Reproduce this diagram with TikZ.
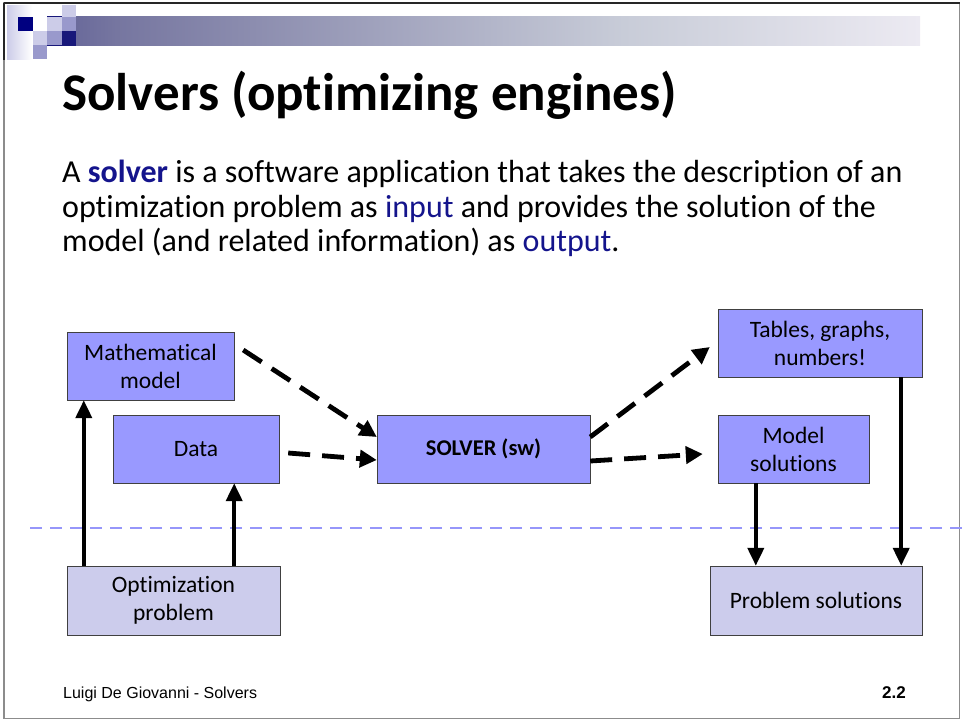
\documentclass[tikz,border=0pt]{standalone}
\usepackage{fontspec}
\setmainfont{Carlito}[Ligatures=NoCommon]
\newfontfamily\footfont{Liberation Sans}
\usetikzlibrary{arrows.meta,positioning,calc}
\definecolor{slidenavy}{RGB}{24,24,122}
\definecolor{barmid}{RGB}{60,60,135}
\definecolor{bargrey}{RGB}{118,118,160}
\definecolor{barpale}{RGB}{200,204,216}
\definecolor{barwhite}{RGB}{236,234,242}
\definecolor{sqlight}{RGB}{204,204,232}
\definecolor{sqmid}{RGB}{153,153,204}
\definecolor{sqdark}{RGB}{0,0,128}
\definecolor{boxblue}{RGB}{153,153,255}
\definecolor{boxlav}{RGB}{204,204,236}
\definecolor{textnavy}{RGB}{20,20,140}
\definecolor{sepblue}{RGB}{150,150,250}
\pgfdeclarehorizontalshading{headbar}{100bp}{color(0bp)=(slidenavy); color(17bp)=(barmid);
  color(29bp)=(bargrey); color(58bp)=(barpale); color(75bp)=(barwhite); color(100bp)=(white)}

\begin{document}
\begin{tikzpicture}[x=1pt,y=-1pt,
    sol/.style={draw=black!75,fill=boxblue,align=center,inner sep=0pt,
      minimum height=68pt,font=\fontsize{23.5}{28}\selectfont},
    prob/.style={sol,fill=boxlav,minimum height=69pt},
    feed/.style={-{Triangle[length=17pt,width=17pt]},line width=4.8pt,
      dash pattern=on 22pt off 12pt},
    link/.style={-{Triangle[length=18pt,width=16pt]},line width=4pt}
  ]
    \useasboundingbox (0,0) rectangle (962,720);
    % slide frame and header
    \draw[black!45,line width=1.5pt] (4,3) rectangle (959.5,718.5);
    \draw[black!85,line width=2pt] (4,3) -- (959.5,3) (4,3) -- (4,60);
    \shade[left color=sqlight,right color=white] (7,5) rectangle (32,59);
    \shade[shading=headbar] (47,16) rectangle (920,45.5);
    \fill[slidenavy] (47,16) rectangle (76,45.5);
    \fill[sqdark] (18,17) rectangle (33,31);
    \fill[sqlight] (33,31) rectangle (47,45);
    \fill[sqmid] (47,31) rectangle (62,45);
    \fill[sqlight] (47,17) rectangle (62,31);
    \fill[sqmid] (62,17) rectangle (76,31);
    \fill[sqlight] (62,5) rectangle (76,17);
    \fill[sqmid] (33,45) rectangle (47,59);

    \node[anchor=base west,inner sep=0pt,font=\fontsize{53}{60}\selectfont\bfseries]
      (title) at (62,110) {Solvers (optimizing engines)};
    \node[anchor=north west,inner sep=0pt,align=left,font=\fontsize{32}{34.5}\selectfont]
      (intro) at (62,160) {A \textcolor{textnavy}{\textbf{solver}} is a software application that takes the description of an\\
      optimization problem as \textcolor{textnavy}{input} and provides the solution of the\\
      model (and related information) as \textcolor{textnavy}{output}.};

    \draw[sepblue,line width=2.6pt,dash pattern=on 12pt off 8pt] (30,528) -- (962,528);

    \node[sol,minimum width=167pt] (math) at (150.5,366) {Mathematical\\model};
    \node[sol,minimum width=166pt] (data) at (196,449) {Data};
    \node[sol,minimum width=213pt,font=\fontsize{22.5}{28}\selectfont\bfseries] (solver) at (483.5,449) {SOLVER (sw)};
    \node[sol,minimum width=204pt] (tables) at (820,343) {Tables, graphs,\\numbers!};
    \node[sol,minimum width=151pt] (msol) at (793.5,449) {Model\\solutions};
    \node[prob,minimum width=213pt] (opt) at (173.5,600.5) {Optimization\\problem};
    \node[prob,minimum width=212pt] (psol) at (816,600.5) {Problem solutions};

    \draw[feed] ([shift={(9pt,16pt)}]math.east) -- ([yshift=12pt]solver.west);
    \draw[feed] ([shift={(9pt,-4pt)}]data.east) -- ([yshift=-11pt]solver.west);
    \draw[feed] ([yshift=12pt]solver.east) -- ([shift={(-8pt,-4pt)}]tables.west);
    \draw[feed] ([yshift=-12pt]solver.east) -- ([shift={(-15pt,-5pt)}]msol.west);

    \draw[link] ([xshift=17pt]opt.north west) -- ([xshift=17pt]opt.north west |- math.south);
    \draw[link] ([xshift=-46pt]opt.north east) -- ([xshift=-46pt]opt.north east |- data.south);
    \draw[link] ([xshift=38pt]msol.south west) -- ([xshift=38pt]msol.south west |- psol.north);
    \draw[link] ([xshift=-21pt]tables.south east) -- ([xshift=-21pt]tables.south east |- psol.north);

    \node[anchor=base west,inner sep=0pt,font=\footfont\fontsize{16}{18}\selectfont]
      (author) at (63,698) {Luigi De Giovanni - Solvers};
    \node[anchor=base east,inner sep=0pt,font=\footfont\fontsize{17}{18}\selectfont\bfseries]
      (pageno) at (906,698) {2.2};
  \end{tikzpicture}
\end{document}
